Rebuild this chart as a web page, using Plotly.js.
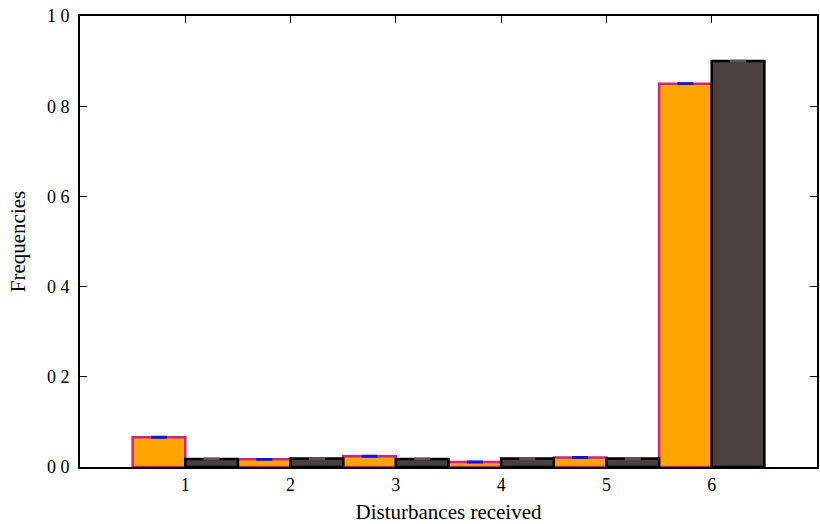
<!DOCTYPE html>
<html>
<head>
<meta charset="utf-8">
<script src="https://cdn.plot.ly/plotly-3.0.1.min.js"></script>
<style>html,body{margin:0;padding:0;background:#fff;}#chart{width:820px;height:524px;}</style>
</head>
<body>
<div id="chart"></div>
<script>
const categories = [1, 2, 3, 4, 5, 6];
const seriesA = [0.066, 0.017, 0.024, 0.011, 0.021, 0.850];
const seriesAErr = [0.001, 0.001, 0.001, 0.001, 0.001, 0.001];
const seriesB = [0.018, 0.019, 0.018, 0.019, 0.019, 0.900];
const seriesBErr = [0.001, 0.001, 0.001, 0.001, 0.001, 0.001];
const yTickVals = [0, 0.2, 0.4, 0.6, 0.8, 1.0];
const yTickText = ['0 0', '0 2', '0 4', '0 6', '0 8', '1 0'];

const fam = 'Liberation Serif, Times New Roman, serif';
const tickFont = {family: fam, size: 18, color: '#000'};
const titleFont = {family: fam, size: 21, color: '#000'};

const traces = [
  {
    type: 'bar', x: categories, y: seriesA, name: 'A',
    marker: {color: '#FFA500', line: {color: '#D0208A', width: 2.5}},
    error_y: {type: 'data', array: seriesAErr, visible: true, color: '#1010EE', thickness: 2, width: 8}
  },
  {
    type: 'bar', x: categories, y: seriesB, name: 'B',
    marker: {color: '#4A403E', line: {color: '#000000', width: 2.5}},
    error_y: {type: 'data', array: seriesBErr, visible: true, color: '#555555', thickness: 2, width: 8}
  }
];

const layout = {
  width: 820, height: 524,
  margin: {l: 80, r: 3, t: 16, b: 57},
  paper_bgcolor: '#fff', plot_bgcolor: '#fff',
  barmode: 'group', bargap: 0, bargroupgap: 0,
  showlegend: false,
  font: tickFont,
  xaxis: {
    range: [0, 7], tickvals: categories, ticktext: categories.map(String),
    ticks: 'inside', ticklen: 7, tickwidth: 1, tickcolor: '#000',
    showline: true, linecolor: '#000', linewidth: 2, mirror: 'ticks',
    showgrid: false, zeroline: false,
    tickfont: tickFont,
    title: {text: 'Disturbances received', font: titleFont, standoff: 13}
  },
  yaxis: {
    range: [0, 1.0], tickvals: yTickVals, ticktext: yTickText,
    ticks: 'inside', ticklen: 7, tickwidth: 1, tickcolor: '#000',
    showline: true, linecolor: '#000', linewidth: 2, mirror: 'ticks',
    showgrid: false, zeroline: false,
    ticklabelstandoff: 5,
    tickfont: tickFont,
    title: {text: 'Frequencies', font: titleFont, standoff: 16}
  }
};

Plotly.newPlot('chart', traces, layout, {displayModeBar: false, staticPlot: true});
</script>
</body>
</html>
